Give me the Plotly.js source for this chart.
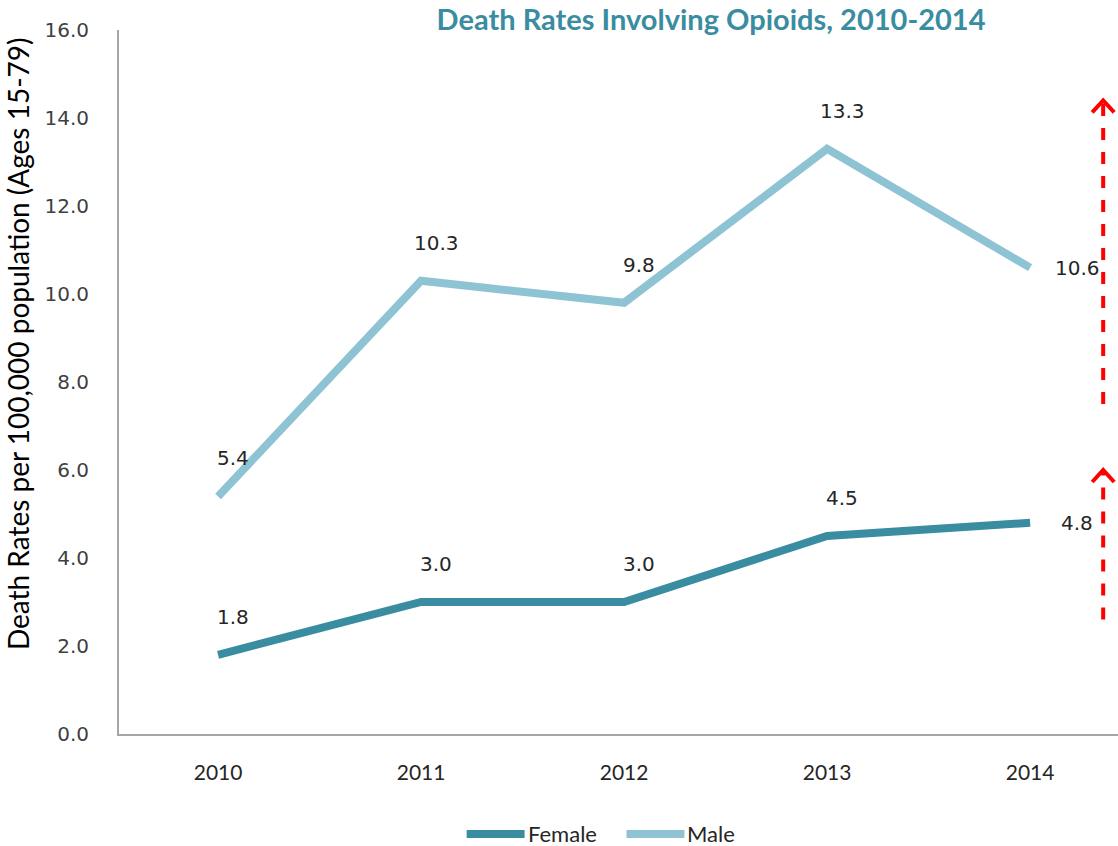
<!DOCTYPE html>
<html><head><meta charset="utf-8">
<script src="https://cdn.plot.ly/plotly-3.0.1.min.js"></script>
<style>html,body{margin:0;padding:0;background:#fff}#chart{width:1118px;height:846px}</style>
</head><body><div id="chart"></div>
<script>
const years = ['2010','2011','2012','2013','2014'];
const female = [1.8, 3.0, 3.0, 4.5, 4.8];
const male = [5.4, 10.3, 9.8, 13.3, 10.6];
const femaleLabels = ['1.8','3.0','3.0','4.5','4.8'];
const maleLabels = ['5.4','10.3','9.8','13.3','10.6'];
const yTicks = [0,2,4,6,8,10,12,14,16];
const yTickText = ['0.0','2.0','4.0','6.0','8.0','10.0','12.0','14.0','16.0'];
const seriesNames = ['Female','Male'];
const seriesColors = ['#3A8DA1','#8EC3D4'];
const arrowSpans = [[7.5, 14.4], [2.6, 6.0]];

const lblFont = {family:'DejaVu Sans, Verdana, sans-serif', size:20, color:'#262626'};
const narrow = 'Lato, sans-serif';

const traces = [
 {x:years, y:female, name:seriesNames[0], type:'scatter', mode:'lines', line:{color:seriesColors[0], width:8}, hoverinfo:'skip'},
 {x:years, y:male, name:seriesNames[1], type:'scatter', mode:'lines', line:{color:seriesColors[1], width:8}, hoverinfo:'skip'}
];

const annotations = [];
const pairs = [[female, femaleLabels], [male, maleLabels]];
pairs.forEach(function(p){
  const vals = p[0], labs = p[1];
  vals.forEach(function(v, i){
    const last = (i === vals.length - 1);
    annotations.push({x:i, y:v, xref:'x', yref:'y', text:labs[i], showarrow:false,
      xanchor:'center', yanchor:'middle', xshift: last ? 47 : 15, yshift: last ? 0 : 38, font:lblFont});
  });
});
annotations.push({text:'Death Rates per 100,000 population (Ages 15-79)', xref:'paper', yref:'paper',
  x:-0.101, y:0.554, xanchor:'center', yanchor:'middle', textangle:-90, showarrow:false,
  font:{family:narrow, size:28, color:'#000'}});

const shapes = [];
arrowSpans.forEach(function(s){
  shapes.push({type:'line', xref:'x', yref:'y', x0:4.36, x1:4.36, y0:s[0], y1:s[1]-0.05,
    line:{color:'#FF0000', width:4, dash:'dash'}});
  shapes.push({type:'path', xref:'x', yref:'y', xsizemode:'pixel', ysizemode:'pixel',
    xanchor:4.36, yanchor:s[1], path:'M-11,-12 L0,0 L11,-12', line:{color:'#FF0000', width:4}});
});
// custom legend
const legX = [0.348, 0.508];
seriesNames.forEach(function(n, i){
  shapes.push({type:'line', xref:'paper', yref:'paper', x0:legX[i], x1:legX[i]+0.058, y0:-0.142, y1:-0.142,
    line:{color:seriesColors[i], width:8}});
  annotations.push({text:n, xref:'paper', yref:'paper', x:legX[i]+0.059, y:-0.142, xanchor:'left', yanchor:'middle',
    showarrow:false, font:{family:narrow, size:22, color:'#262626'}});
});

const layout = {
  width:1118, height:846,
  margin:{l:119, r:0, t:30, b:112},
  paper_bgcolor:'#fff', plot_bgcolor:'#fff',
  title:{text:'<b>Death Rates Involving Opioids, 2010-2014</b>', x:0.636, xanchor:'center', y:0.976, yanchor:'middle',
    font:{family:narrow, size:29, color:'#3A8DA1'}},
  xaxis:{type:'category', range:[-0.488, 4.433], showgrid:false, zeroline:false, showline:true,
    linecolor:'#A6A6A6', linewidth:2, ticks:'', ticklabelstandoff:19,
    tickfont:{family:narrow, size:21, color:'#262626'}},
  yaxis:{range:[0,16], tickvals:yTicks, ticktext:yTickText, showgrid:false, zeroline:false, showline:true,
    linecolor:'#A6A6A6', linewidth:2, ticks:'', ticklabelstandoff:24,
    tickfont:{family:'DejaVu Sans, Verdana, sans-serif', size:20, color:'#404040'}},
  showlegend:false,
  annotations:annotations,
  shapes:shapes
};
Plotly.newPlot('chart', traces, layout, {displayModeBar:false, staticPlot:true});
</script></body></html>
